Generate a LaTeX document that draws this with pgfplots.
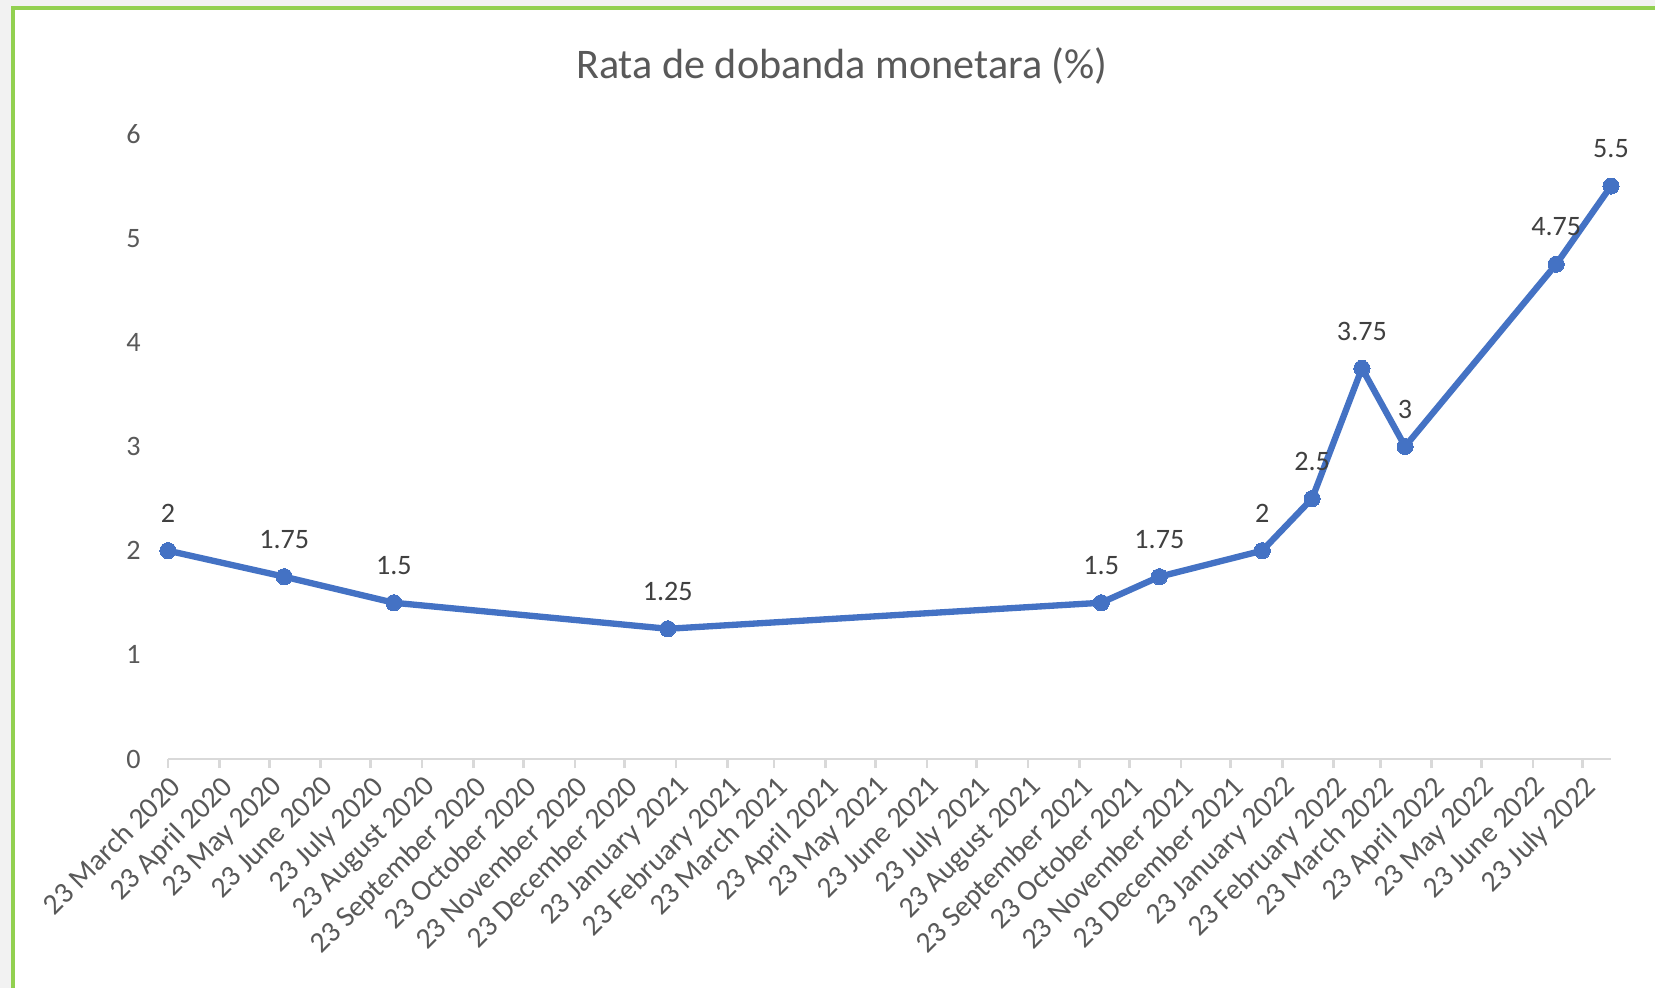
\documentclass[border=0pt]{standalone}
\usepackage{pgfplots}
\pgfplotsset{compat=1.18}
\usepackage{fontspec}
\setmainfont{Carlito}
\definecolor{ExBlue}{HTML}{4472C4}
\definecolor{ExGray}{HTML}{595959}
\definecolor{LblGray}{HTML}{404040}
\definecolor{AxGray}{HTML}{D9D9D9}
\definecolor{FrameGreen}{HTML}{92D050}
\definecolor{OutGray}{HTML}{F2F2F2}

\begin{document}
\begin{tikzpicture}
\useasboundingbox (0,0) rectangle (165.5mm,98.8mm);
\fill[OutGray] (0,0) rectangle (165.5mm,98.8mm);
\fill[white] (1.3mm,0) rectangle (165.5mm,98.0mm);
\draw[FrameGreen, line width=0.9pt] (1.3mm,0) -- (1.3mm,98.0mm) -- (165.5mm,98.0mm);
\node[font=\fontsize{12}{14}\selectfont, text=ExGray] at (84.2mm,92.2mm) {Rata de dobanda monetara (\%)};
\begin{axis}[
  at={(16.8mm,22.9mm)}, anchor=south west,
  scale only axis, width=144.3mm, height=62.5mm,
  xmin=0, xmax=869, ymin=0, ymax=6,
  axis x line*=bottom, axis y line*=left,
  x axis line style={AxGray, line width=0.75pt, -},
  y axis line style={draw=none},
  ytick style={draw=none},
  xtick style={AxGray, line width=0.75pt},
  tick align=outside, major tick length=2.6pt,
  ytick={0,1,2,3,4,5,6},
  xtick={0,31,61,92,122,153,184,214,245,275,306,337,365,396,426,457,487,518,549,579,610,640,671,702,730,761,791,822,852},
  xticklabels={23 March 2020,23 April 2020,23 May 2020,23 June 2020,23 July 2020,23 August 2020,23 September 2020,23 October 2020,23 November 2020,23 December 2020,23 January 2021,23 February 2021,23 March 2021,23 April 2021,23 May 2021,23 June 2021,23 July 2021,23 August 2021,23 September 2021,23 October 2021,23 November 2021,23 December 2021,23 January 2022,23 February 2022,23 March 2022,23 April 2022,23 May 2022,23 June 2022,23 July 2022},
  xticklabel style={rotate=45, anchor=north east, font=\fontsize{8.4}{10}\selectfont, text=ExGray, inner sep=1pt},
  yticklabel style={font=\fontsize{8}{10}\selectfont, text=ExGray, inner sep=0pt, xshift=-5pt},
  /pgf/number format/assume math mode=true,
  clip=false,
  nodes near coords,
  nodes near coords style={font=\fontsize{8}{10}\selectfont, text=LblGray, anchor=south, inner sep=0pt, yshift=8pt},
]
\addplot[ExBlue, line width=1.8pt, mark=*, mark size=2.3pt, mark options={fill=ExBlue, draw=ExBlue, line width=0pt}]
  coordinates {(0,2) (70,1.75) (136,1.5) (301,1.25) (562,1.5) (597,1.75) (659,2) (689,2.5) (719,3.75) (745,3) (836,4.75) (869,5.5)};
\end{axis}
\end{tikzpicture}
\end{document}
